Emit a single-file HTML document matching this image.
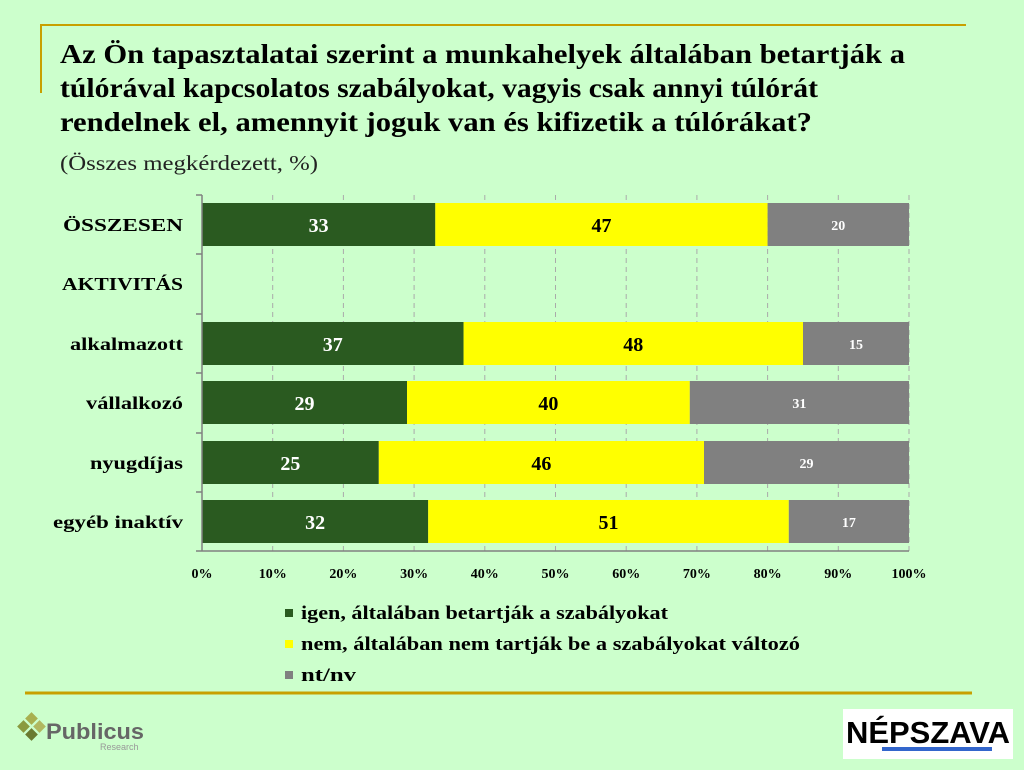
<!DOCTYPE html>
<html><head><meta charset="utf-8"><style>
html,body{margin:0;padding:0;background:#ccffcc;}
svg{display:block;font-family:"Liberation Serif",serif;}
</style></head><body>
<svg width="1024" height="770" viewBox="0 0 1024 770" xmlns="http://www.w3.org/2000/svg">
<rect width="1024" height="770" fill="#ccffcc"/>
<path d="M41 93 V25 H966" fill="none" stroke="#c8a000" stroke-width="2"/>
<line x1="25" y1="693" x2="972" y2="693" stroke="#c8a000" stroke-width="3"/>
<g font-weight="bold" font-size="27" fill="#000">
<text x="60" y="63" textLength="845" lengthAdjust="spacingAndGlyphs">Az Ön tapasztalatai szerint a munkahelyek általában betartják a</text>
<text x="60" y="97" textLength="758" lengthAdjust="spacingAndGlyphs">túlórával kapcsolatos szabályokat, vagyis csak annyi túlórát</text>
<text x="60" y="131" textLength="752" lengthAdjust="spacingAndGlyphs">rendelnek el, amennyit joguk van és kifizetik a túlórákat?</text>
</g>
<text x="60" y="170" font-size="21" fill="#222" textLength="258" lengthAdjust="spacingAndGlyphs">(Összes megkérdezett, %)</text>
<g stroke="#aaaaaa" stroke-dasharray="5,4" stroke-width="1">
<line x1="272.7" y1="195" x2="272.7" y2="551"/><line x1="343.4" y1="195" x2="343.4" y2="551"/>
<line x1="414.1" y1="195" x2="414.1" y2="551"/><line x1="484.8" y1="195" x2="484.8" y2="551"/>
<line x1="555.5" y1="195" x2="555.5" y2="551"/><line x1="626.2" y1="195" x2="626.2" y2="551"/>
<line x1="696.9" y1="195" x2="696.9" y2="551"/><line x1="767.6" y1="195" x2="767.6" y2="551"/>
<line x1="838.3" y1="195" x2="838.3" y2="551"/><line x1="909" y1="195" x2="909" y2="551"/>
</g>
<g>
<rect x="202" y="203" width="233.3" height="43" fill="#2a5a20"/><rect x="435.3" y="203" width="332.3" height="43" fill="#ffff00"/><rect x="767.6" y="203" width="141.4" height="43" fill="#808080"/>
<rect x="202" y="322" width="261.6" height="43" fill="#2a5a20"/><rect x="463.6" y="322" width="339.4" height="43" fill="#ffff00"/><rect x="803" y="322" width="106" height="43" fill="#808080"/>
<rect x="202" y="381" width="205" height="43" fill="#2a5a20"/><rect x="407" y="381" width="282.8" height="43" fill="#ffff00"/><rect x="689.8" y="381" width="219.2" height="43" fill="#808080"/>
<rect x="202" y="441" width="176.8" height="43" fill="#2a5a20"/><rect x="378.8" y="441" width="325.2" height="43" fill="#ffff00"/><rect x="704" y="441" width="205" height="43" fill="#808080"/>
<rect x="202" y="500" width="226.2" height="43" fill="#2a5a20"/><rect x="428.2" y="500" width="360.6" height="43" fill="#ffff00"/><rect x="788.8" y="500" width="120.2" height="43" fill="#808080"/>
</g>
<g stroke="#808080" stroke-width="1.5">
<line x1="202" y1="195" x2="202" y2="551"/><line x1="202" y1="551" x2="909" y2="551"/>
<line x1="196" y1="195" x2="202" y2="195"/><line x1="196" y1="254" x2="202" y2="254"/><line x1="196" y1="314" x2="202" y2="314"/><line x1="196" y1="373" x2="202" y2="373"/><line x1="196" y1="433" x2="202" y2="433"/><line x1="196" y1="492" x2="202" y2="492"/><line x1="196" y1="551" x2="202" y2="551"/>
</g>
<g font-weight="bold" font-size="20" text-anchor="middle">
<text x="318.6" y="232" fill="#fff">33</text><text x="601.5" y="232">47</text>
<text x="332.8" y="351" fill="#fff">37</text><text x="633.3" y="351">48</text>
<text x="304.5" y="410" fill="#fff">29</text><text x="548.4" y="410">40</text>
<text x="290.4" y="470" fill="#fff">25</text><text x="541.4" y="470">46</text>
<text x="315.1" y="529" fill="#fff">32</text><text x="608.5" y="529">51</text>
</g>
<g font-weight="bold" font-size="14" text-anchor="middle" fill="#fff">
<text x="838.3" y="230">20</text><text x="856" y="349">15</text><text x="799.4" y="408">31</text><text x="806.5" y="468">29</text><text x="848.9" y="527">17</text>
</g>
<g font-weight="bold" font-size="18" text-anchor="end">
<text x="183" y="231" textLength="120" lengthAdjust="spacingAndGlyphs">ÖSSZESEN</text><text x="183" y="290" textLength="121" lengthAdjust="spacingAndGlyphs">AKTIVITÁS</text>
<text x="183" y="350" textLength="113" lengthAdjust="spacingAndGlyphs">alkalmazott</text><text x="183" y="409" textLength="97" lengthAdjust="spacingAndGlyphs">vállalkozó</text><text x="183" y="469" textLength="93" lengthAdjust="spacingAndGlyphs">nyugdíjas</text><text x="183" y="528" textLength="130" lengthAdjust="spacingAndGlyphs">egyéb inaktív</text>
</g>
<g font-weight="bold" font-size="14" text-anchor="middle">
<text x="202" y="578">0%</text><text x="272.7" y="578">10%</text><text x="343.4" y="578">20%</text><text x="414.1" y="578">30%</text><text x="484.8" y="578">40%</text><text x="555.5" y="578">50%</text><text x="626.2" y="578">60%</text><text x="696.9" y="578">70%</text><text x="767.6" y="578">80%</text><text x="838.3" y="578">90%</text><text x="909" y="578">100%</text>
</g>
<rect x="285" y="609" width="8" height="8" fill="#2a5a20"/>
<rect x="285" y="640" width="8" height="8" fill="#ffff00"/>
<rect x="285" y="671" width="8" height="8" fill="#808080"/>
<g font-weight="bold" font-size="19">
<text x="301" y="619" textLength="367" lengthAdjust="spacingAndGlyphs">igen, általában betartják a szabályokat</text>
<text x="301" y="650" textLength="499" lengthAdjust="spacingAndGlyphs">nem, általában nem tartják be a szabályokat változó</text>
<text x="301" y="681" textLength="55" lengthAdjust="spacingAndGlyphs">nt/nv</text>
</g>
<g>
<rect x="19" y="722" width="9" height="9" fill="#8a9a40" transform="rotate(45 23.5 726.5)"/>
<rect x="27" y="714" width="9" height="9" fill="#a8b050" transform="rotate(45 31.5 718.5)"/>
<rect x="27" y="730" width="9" height="9" fill="#6a7a30" transform="rotate(45 31.5 734.5)"/>
<rect x="35" y="722" width="9" height="9" fill="#b0b860" transform="rotate(45 39.5 726.5)"/>
<text x="46" y="739" font-family="Liberation Sans,sans-serif" font-weight="bold" font-size="22" fill="#666" textLength="98" lengthAdjust="spacingAndGlyphs">Publicus</text>
<text x="100" y="750" font-family="Liberation Sans,sans-serif" font-size="9" fill="#999">Research</text>
</g>
<rect x="843" y="709" width="170" height="50" fill="#fff"/>
<text x="928" y="743" text-anchor="middle" font-family="Liberation Sans,sans-serif" font-weight="bold" font-size="31" fill="#000" textLength="164" lengthAdjust="spacingAndGlyphs">NÉPSZAVA</text>
<rect x="882" y="747" width="110" height="4" fill="#3366cc"/>
</svg>
</body></html>
